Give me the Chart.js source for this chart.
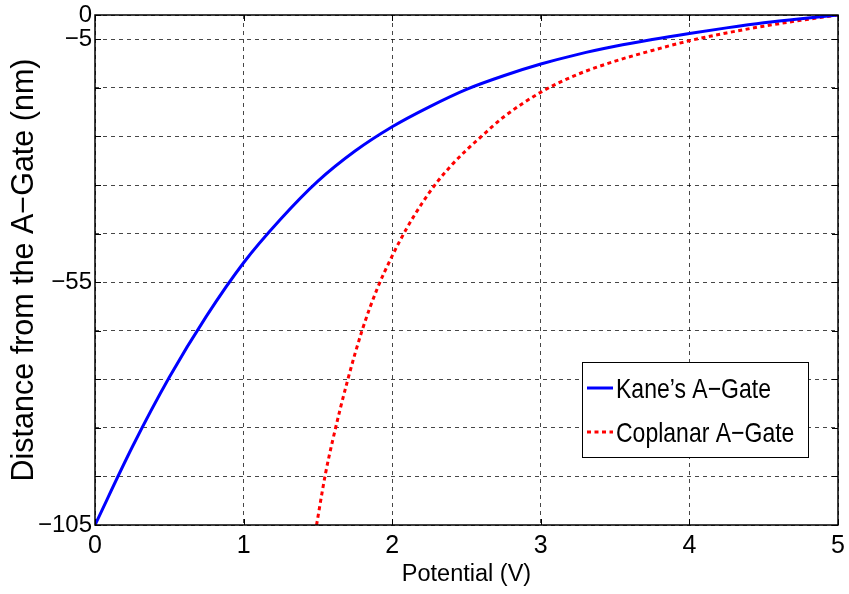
<!DOCTYPE html>
<html>
<head>
<meta charset="utf-8">
<script src="https://cdn.jsdelivr.net/npm/chart.js@4.4.1/dist/chart.umd.min.js"></script>
<style>
html,body{margin:0;padding:0;background:#fff;}
#wrap{width:849px;height:594px;}
</style>
</head>
<body>
<div id="wrap"><canvas id="c" width="849" height="594"></canvas></div>
<script>
// ---- data ----
const kaneV = [0, 0.25, 0.5, 0.75, 1.0, 1.25, 1.5, 1.75, 2.0, 2.25, 2.5, 2.75, 3.0, 3.25, 3.5, 3.75, 4.0, 4.25, 4.5, 4.75, 5.0];
const kaneD = [-105, -89.0, -74.6, -62.0, -51.0, -42.0, -34.2, -28.0, -23.0, -18.9, -15.3, -12.5, -10.1, -8.1, -6.45, -5.05, -3.8, -2.65, -1.6, -0.75, 0];
const copV = [1.491, 1.55, 1.6, 1.7, 1.8, 1.9, 2.0, 2.1, 2.2, 2.3, 2.4, 2.5, 2.6, 2.75, 3.0, 3.25, 3.5, 3.75, 4.0, 4.25, 4.5, 4.75, 5.0];
const copD = [-105, -94.6, -87.5, -75.2, -64.7, -56.3, -49.6, -43.8, -38.8, -34.5, -30.9, -27.8, -25.0, -21.0, -15.9, -12.2, -9.5, -7.3, -5.3, -3.7, -2.3, -1.1, 0];
const seriesNames = ["Kane\u2019s A\u2212Gate", "Coplanar A\u2212Gate"];
const xTicks = [0, 1, 2, 3, 4, 5];
const yGrid = [-105, -95, -85, -75, -65, -55, -45, -35, -25, -15, -5, 0];
const yLabelled = [0, -5, -55, -105];
const xTitle = "Potential (V)";
const yTitle = "Distance from the A\u2212Gate (nm)";

const FONT = "'Liberation Sans', Arial, Helvetica, sans-serif";
const fmt = v => v < 0 ? "\u2212" + Math.abs(v) : String(v);

const boxPlugin = {
  id: 'boxPlugin',
  afterDatasetsDraw(chart) {
    const {ctx, chartArea: a, scales} = chart;
    ctx.save();
    ctx.strokeStyle = '#000';
    ctx.lineWidth = 1.5;
    ctx.strokeRect(a.left, a.top, a.right - a.left, a.bottom - a.top);
    ctx.lineWidth = 1;
    const tl = 6;
    ctx.beginPath();
    yGrid.forEach(v => {
      const y = Math.round(scales.y.getPixelForValue(v)) + 0.5;
      ctx.moveTo(a.left, y); ctx.lineTo(a.left + tl, y);
      ctx.moveTo(a.right, y); ctx.lineTo(a.right - tl, y);
    });
    xTicks.forEach(v => {
      const x = Math.round(scales.x.getPixelForValue(v)) + 0.5;
      ctx.moveTo(x, a.bottom); ctx.lineTo(x, a.bottom - tl);
      ctx.moveTo(x, a.top); ctx.lineTo(x, a.top + tl);
    });
    ctx.stroke();
    ctx.restore();
  },
  afterDraw(chart) {
    const ctx = chart.ctx;
    const ds = chart.data.datasets;
    const bx = 582.5, by = 362.5, bw = 226, bh = 95;
    ctx.save();
    ctx.fillStyle = '#fff';
    ctx.fillRect(bx, by, bw, bh);
    ctx.strokeStyle = '#000';
    ctx.lineWidth = 1;
    ctx.strokeRect(bx, by, bw, bh);
    const rows = [388, 432];
    ds.forEach((d, i) => {
      ctx.beginPath();
      ctx.strokeStyle = d.borderColor;
      ctx.lineWidth = 3;
      ctx.setLineDash(d.borderDash || []);
      ctx.moveTo(587, rows[i]);
      ctx.lineTo(613, rows[i]);
      ctx.stroke();
      ctx.setLineDash([]);
      ctx.save();
      ctx.translate(616, rows[i] + 10);
      ctx.scale(1, 1.22);
      ctx.fillStyle = '#000';
      ctx.font = "23px " + FONT;
      ctx.textBaseline = 'alphabetic';
      ctx.textAlign = 'left';
      ctx.fillText(d.label, 0, 0);
      ctx.restore();
    });
    ctx.restore();
  }
};

new Chart(document.getElementById('c'), {
  type: 'line',
  data: {
    datasets: [
      {
        label: seriesNames[0],
        data: kaneV.map((v, i) => ({x: v, y: kaneD[i]})),
        borderColor: '#0000ff',
        borderWidth: 3,
        pointRadius: 0,
        cubicInterpolationMode: 'monotone',
        fill: false
      },
      {
        label: seriesNames[1],
        data: copV.map((v, i) => ({x: v, y: copD[i]})),
        borderColor: '#ff0000',
        borderWidth: 3,
        borderDash: [4, 3.5],
        pointRadius: 0,
        cubicInterpolationMode: 'monotone',
        fill: false
      }
    ]
  },
  options: {
    responsive: false,
    animation: false,
    devicePixelRatio: 1,
    layout: {padding: {left: 0, top: 15, right: 11, bottom: 0}},
    plugins: {legend: {display: false}, tooltip: {enabled: false}},
    scales: {
      x: {
        type: 'linear', min: 0, max: 5,
        afterBuildTicks: s => { s.ticks = xTicks.map(v => ({value: v})); },
        afterFit: s => { s.height = 69; s.paddingRight = 0; s.paddingLeft = 0; },
        ticks: {color: '#000', font: {family: FONT, size: 25, lineHeight: 1}, padding: 9, maxRotation: 0, autoSkip: false, callback: v => fmt(v)},
        grid: {color: 'rgba(0,0,0,0.72)', lineWidth: 1, drawTicks: false},
        border: {display: false, dash: [4, 4]},
        title: {display: true, text: xTitle, color: '#000', font: {family: FONT, size: 23.5}, padding: {top: 0, bottom: 5}}
      },
      y: {
        type: 'linear', min: -105, max: 0,
        afterBuildTicks: s => { s.ticks = yGrid.map(v => ({value: v})); },
        afterFit: s => { s.width = 95; },
        ticks: {color: '#000', font: {family: FONT, size: 24, lineHeight: 1}, padding: 3, autoSkip: false, callback: v => yLabelled.includes(v) ? fmt(v) : ''},
        grid: {color: 'rgba(0,0,0,0.72)', lineWidth: 1, drawTicks: false},
        border: {display: false, dash: [4, 4]},
        title: {display: true, text: yTitle, color: '#000', font: {family: FONT, size: 30.5}, padding: {top: 6, bottom: 0}}
      }
    }
  },
  plugins: [boxPlugin]
});
</script>
</body>
</html>
